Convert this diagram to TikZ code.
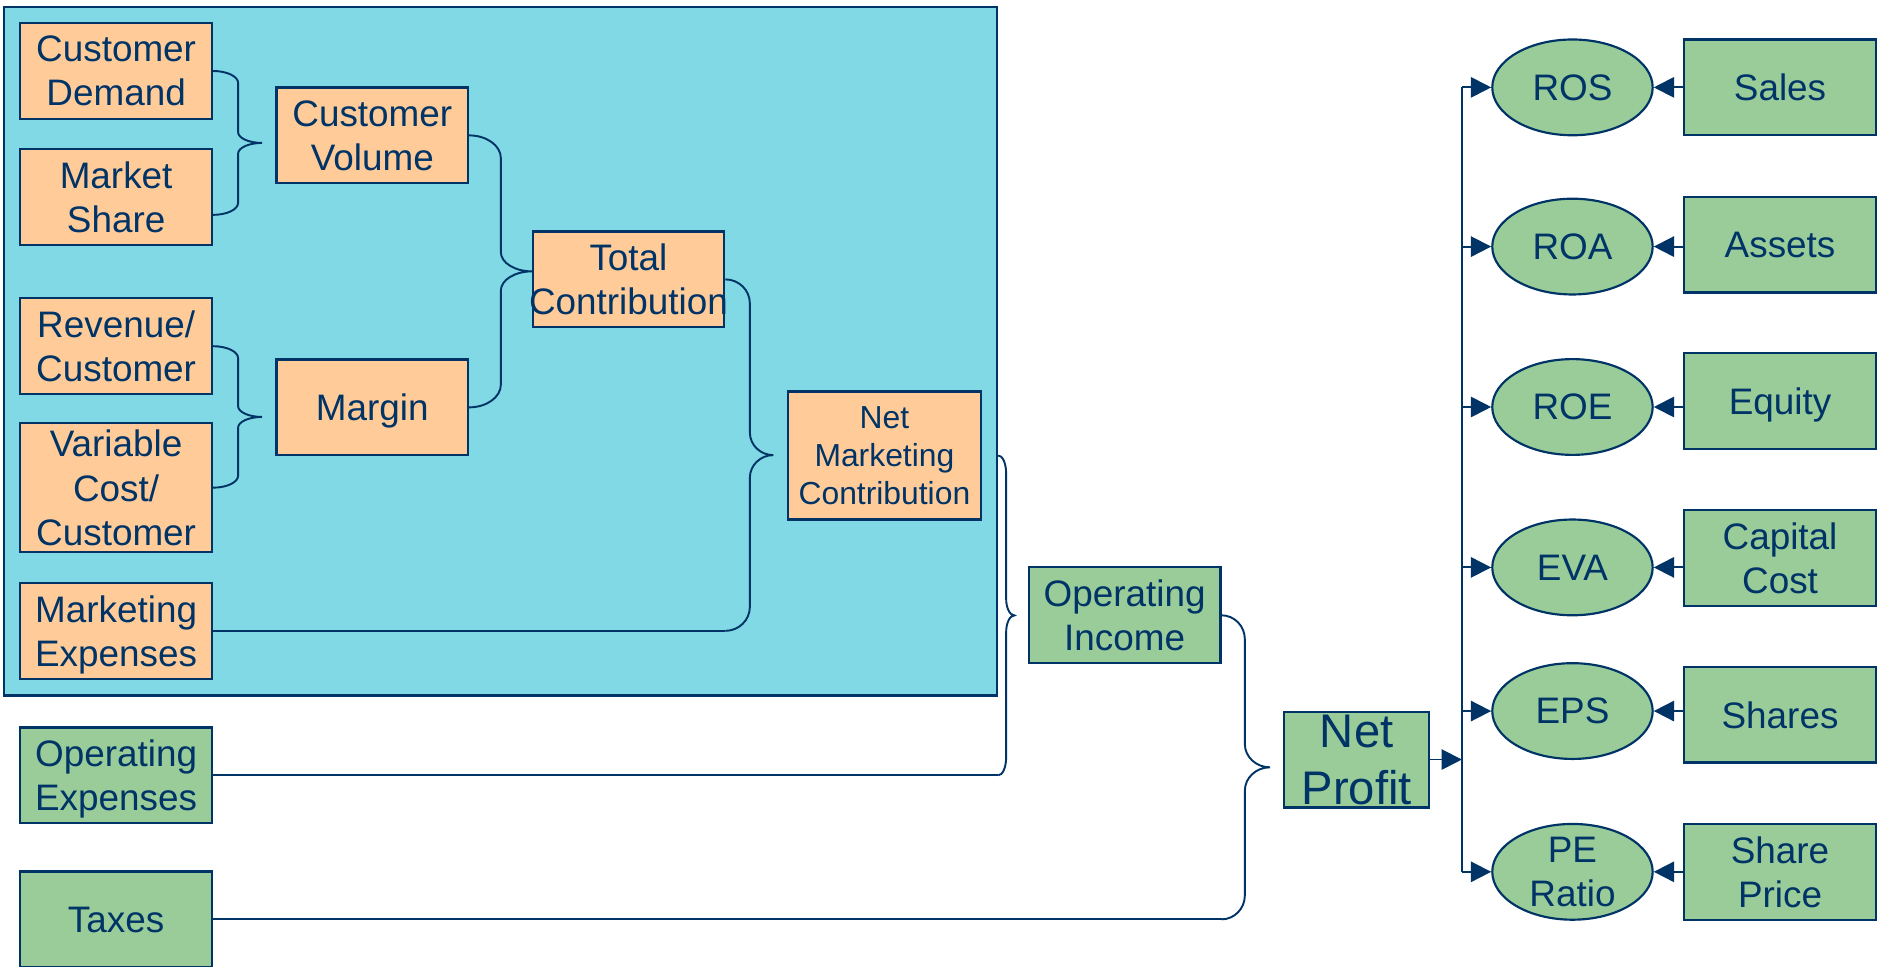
\documentclass[tikz,border=0pt]{standalone}
\usepackage{fontspec}
\setmainfont{Liberation Sans}
\usetikzlibrary{shapes.geometric,arrows.meta,calc}

\definecolor{navy}{HTML}{003366}
\definecolor{panelcyan}{HTML}{80D9E4}
\definecolor{peach}{HTML}{FFCC99}
\definecolor{sage}{HTML}{99CC99}

\newcommand{\kpifont}{\fontsize{15.4pt}{18.5pt}\selectfont}
\newcommand{\kpismall}{\fontsize{13.3pt}{16pt}\selectfont}
\newcommand{\kpibig}{\fontsize{19.7pt}{23.7pt}\selectfont}

% curly brace joining two end points: #1 upper end, #2 lower end,
% #3 spine offset, #4 tip offset, #5 end radius, #6 tip radius
% (quarter-ellipse corners drawn as cubic curves)
\newcommand{\curlyjoin}[6]{%
  \path (#1) -- coordinate[pos=0.5] (cjmid) (#2);
  \draw[link] (#1)
    .. controls ($(#1)+(0.552*#3,0)$) and ($(#1)+(#3,0.448*#5)$) .. ($(#1)+(#3,#5)$)
    -- ($(cjmid)+(#3,-#6)$)
    .. controls ($(cjmid)+(#3,-0.448*#6)$) and ($(cjmid)+(#3+0.448*#4-0.448*#3,0)$) .. ($(cjmid)+(#4,0)$)
    .. controls ($(cjmid)+(#3+0.448*#4-0.448*#3,0)$) and ($(cjmid)+(#3,0.448*#6)$) .. ($(cjmid)+(#3,#6)$)
    -- ($(#2)+(#3,-#5)$)
    .. controls ($(#2)+(#3,-0.448*#5)$) and ($(#2)+(0.552*#3,0)$) .. (#2);
}

\begin{document}
\begin{tikzpicture}[x=0.5pt,y=-0.5pt,
  box/.style={draw=navy, line width=0.9pt, minimum width=80pt, minimum height=40pt,
    inner sep=0pt, align=center, text=navy, font=\kpifont, text depth=0pt},
  obox/.style={box, fill=peach},
  gbox/.style={box, fill=sage},
  metric/.style={ellipse, draw=navy, line width=0.9pt, fill=sage, minimum width=67pt,
    minimum height=40pt, inner sep=-2pt, align=center, text=navy, font=\kpifont, text depth=0pt},
  panel/.style={draw=navy, line width=0.9pt, fill=panelcyan, minimum width=415pt,
    minimum height=287.5pt, inner sep=0pt},
  link/.style={draw=navy, line width=0.8pt},
  arr/.style={link, -{Triangle[length=8.5pt,width=8.5pt]}}
]
\useasboundingbox (0,0) rectangle (1568,807);
\fill[white] (0,0) rectangle (1568,807);

% marketing block
\node[panel] (panel) at (418,293.5) {};
\node[obox] (cd) at (97,59.3) {Customer\\Demand};
\node[obox] (ms) at (97,164.5) {Market\\Share};
\node[obox] (cv) at (311,113.1) {Customer\\Volume};
\node[obox] (rc) at (97,289.2) {Revenue/\\Customer};
\node[obox, minimum height=53.7pt] (vc) at (97,407.4) {Variable\\Cost/\\Customer};
\node[obox] (mg) at (311,340.3) {Margin};
\node[obox, inner xsep=-3pt] (tc) at (525,233.4) {Total\\Contribution};
\node[obox, minimum width=80.5pt, minimum height=53.5pt, font=\kpismall] (nmc) at (738.8,380.5) {Net\\Marketing\\Contribution};
\node[obox] (me) at (97,527) {Marketing\\Expenses};

% income statement
\node[gbox] (oi) at (939.5,514) {Operating\\Income};
\node[gbox] (oe) at (97,647.7) {Operating\\Expenses};
\node[gbox] (tx) at (97,768) {Taxes};
\node[gbox, minimum width=60.5pt, font=\kpibig, inner xsep=-3pt] (np) at (1133.3,634.5) {Net\\Profit};

% ratios
\node[metric] (ros) at (1313.6,73) {ROS};
\node[metric] (roa) at (1313.6,206) {ROA};
\node[metric] (roe) at (1313.6,340) {ROE};
\node[metric] (eva) at (1313.6,474) {EVA};
\node[metric] (eps) at (1313.6,594) {EPS};
\node[metric] (pe) at (1313.6,728.3) {PE\\Ratio};

\node[gbox] (sales) at (1487,73) {Sales};
\node[gbox] (assets) at (1487,204.3) {Assets};
\node[gbox] (equity) at (1487,335) {Equity};
\node[gbox] (capcost) at (1487,466) {Capital\\Cost};
\node[gbox] (shares) at (1487,597) {Shares};
\node[gbox] (shprice) at (1487,728.3) {Share\\Price};

% braces of the marketing block
\coordinate (msend) at ($(ms.east)+(0,15)$);
\curlyjoin{cd.east}{msend}{21}{41}{10}{9}
\curlyjoin{cv.east}{mg.east}{26.5}{52.5}{19}{16}
\curlyjoin{rc.east}{vc.east}{21}{41}{10}{9}
\coordinate (tcend) at (tc.east |- me.east);
\draw[link] (me.east) -- (tcend);
\curlyjoin{tc.east}{tcend}{20.5}{40}{20}{19}

% braces towards net profit
\coordinate (nmcout) at (panel.east |- nmc.east);
\coordinate (oeend) at (panel.east |- oe.east);
\draw[link] (oe.east) -- (oeend);
\curlyjoin{nmcout}{oeend}{6.6}{13.5}{15}{14}
\coordinate (oiend) at (oi.east |- tx.east);
\draw[link] (tx.east) -- (oiend);
\curlyjoin{oi.east}{oiend}{19.5}{40.5}{20}{19.5}

% distribution bus to the ratios
\coordinate (bus) at ($(np.east)+(26.5,0)$);
\draw[link] (bus |- ros.west) -- (bus |- pe.west);
\draw[arr] (np.east) -- (bus);
\foreach \m in {ros,roa,roe,eva,eps,pe}
  \draw[arr] (bus |- \m.west) -- (\m.west);

% inputs of the ratios
\draw[arr] (sales.west |- ros.east) -- (ros.east);
\draw[arr] (assets.west |- roa.east) -- (roa.east);
\draw[arr] (equity.west |- roe.east) -- (roe.east);
\draw[arr] (capcost.west |- eva.east) -- (eva.east);
\draw[arr] (shares.west |- eps.east) -- (eps.east);
\draw[arr] (shprice.west |- pe.east) -- (pe.east);
\end{tikzpicture}
\end{document}
